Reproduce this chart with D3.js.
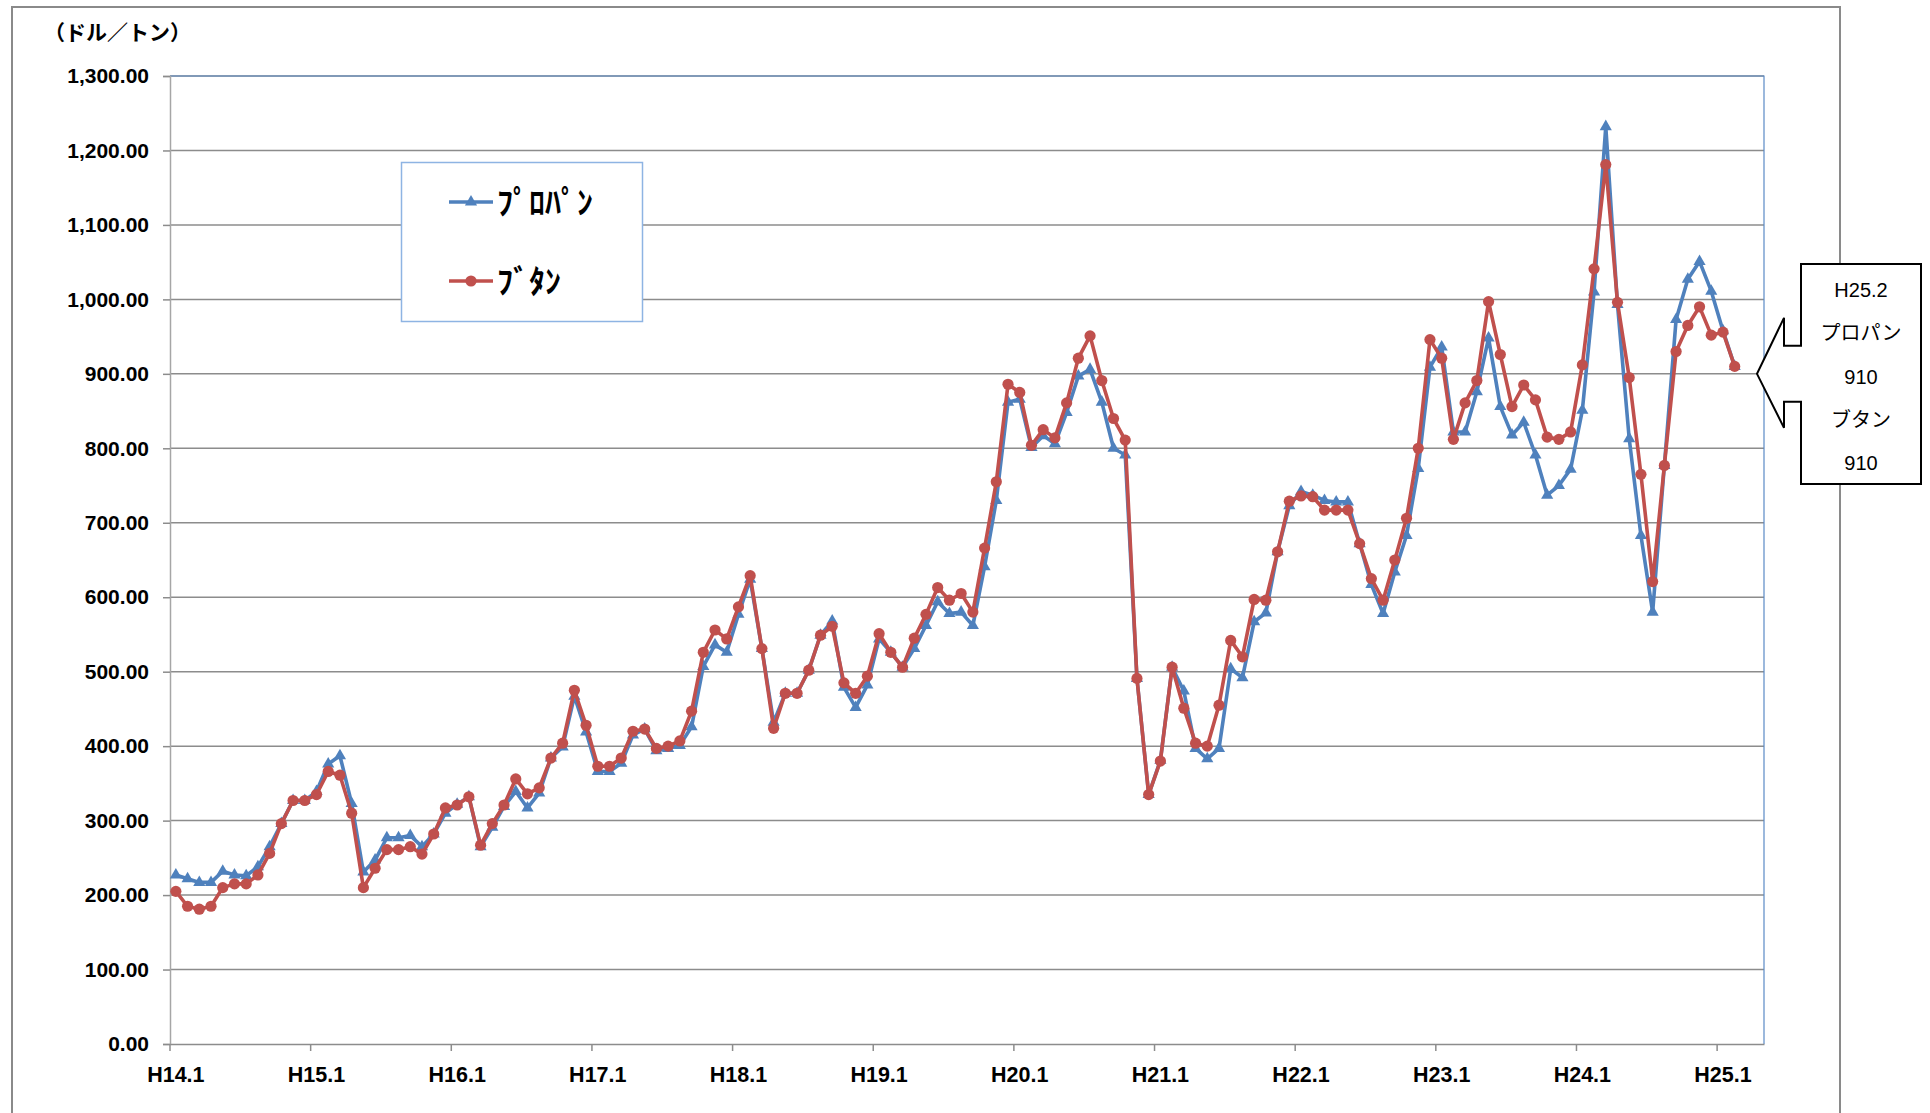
<!DOCTYPE html>
<html>
<head>
<meta charset="utf-8">
<script src="https://cdn.jsdelivr.net/npm/d3@7"></script>
<style>
  body { margin: 0; background: #fff; }
</style>
</head>
<body>
<div id="chart"></div>
<script>
// months H14.1 .. H25.4 on the category axis (data stops at H25.2)
const years = [14, 15, 16, 17, 18, 19, 20, 21, 22, 23, 24, 25];
const months = [1, 2, 3, 4, 5, 6, 7, 8, 9, 10, 11, 12];
const categories = [];
years.forEach(yr => months.forEach(m => {
    if (yr < 25 || m <= 4) categories.push(`H${yr}.${m}`);
}));

const xTickLabels = ["H14.1", "H15.1", "H16.1", "H17.1", "H18.1", "H19.1",
                     "H20.1", "H21.1", "H22.1", "H23.1", "H24.1", "H25.1"];
const yTicks = [0, 100, 200, 300, 400, 500, 600, 700, 800, 900, 1000, 1100, 1200, 1300];

// プロパン (ドル/トン)
const propane = [
    227, 222, 217, 217, 232, 227, 226, 238, 265, 296, 327, 327,
    339, 376, 387, 323, 231, 247, 277, 277, 280, 265, 282, 310,
    322, 332, 265, 291, 319, 339, 317, 337, 384, 399, 467, 419,
    366, 366, 377, 415, 423, 394, 397, 401, 426, 507, 536, 526,
    577, 624, 531, 432, 471, 471, 502, 549, 568, 479, 452, 482,
    544, 526, 506, 531, 562, 594, 578, 580, 562, 641, 730, 862,
    866, 801, 817, 806, 848, 897, 906, 862, 800, 791, 491, 335,
    381, 506, 474, 397, 383, 397, 504, 492, 567, 579, 661, 723,
    742, 737, 730, 728, 728, 672, 617, 578, 634, 683, 773, 909,
    936, 822, 822, 876, 948, 856, 818, 835, 791, 737, 750, 772,
    851, 1010, 1232, 993, 813, 683, 580, 777, 973, 1027, 1051, 1011,
    958, 910
];

// ブタン (ドル/トン)
const butane = [
    205, 185, 181, 185, 210, 215, 215, 227, 256, 296, 327, 327,
    335, 366, 361, 310, 210, 236, 261, 261, 265, 255, 282, 317,
    321, 332, 267, 296, 321, 356, 336, 344, 384, 404, 475, 428,
    373, 373, 384, 420, 423, 397, 400, 407, 447, 526, 556, 544,
    587, 629, 531, 424, 471, 471, 502, 549, 561, 485, 471, 494,
    551, 526, 506, 545, 577, 613, 596, 605, 580, 666, 755, 886,
    875, 804, 825, 814, 861, 921, 951, 891, 840, 811, 491, 335,
    380, 506, 451, 404, 400, 455, 542, 520, 597, 596, 661, 729,
    736, 735, 717, 717, 717, 672, 625, 596, 650, 706, 800, 946,
    921, 812, 861, 891, 997, 926, 856, 885, 865, 815, 812, 822,
    912, 1041, 1181, 996, 895, 765, 621, 777, 930, 965, 990, 952,
    956, 910
];

const series = [
    {name: "ﾌﾟﾛﾊﾟﾝ", values: propane, color: "#4F81BD", marker: "triangle"},
    {name: "ﾌﾞﾀﾝ", values: butane, color: "#C0504D", marker: "circle"}
];

const calloutLines = ["H25.2", "プロパン", "910", "ブタン", "910"];

const width = 1930, height = 1113;
const plot = {left: 170, right: 1764, top: 76, bottom: 1044};

const svg = d3.select("#chart")
    .append("svg")
    .attr("width", width)
    .attr("height", height)
    .style("font-family", "'Liberation Sans', Arial, sans-serif");

svg.append("rect")
    .attr("width", width).attr("height", height)
    .attr("fill", "#fff");

// outer chart frame
svg.append("rect")
    .attr("x", 12).attr("y", 7)
    .attr("width", 1828).attr("height", 1130)
    .attr("fill", "none")
    .attr("stroke", "#8a8a8a")
    .attr("stroke-width", 2);

const x = d3.scaleBand()
    .domain(categories)
    .range([plot.left, plot.right])
    .padding(0);

const y = d3.scaleLinear()
    .domain([0, 1300])
    .range([plot.bottom, plot.top]);

const cx = d => x(d) + x.bandwidth() / 2;

// gridlines
svg.append("g")
    .selectAll("line")
    .data(yTicks.filter(t => t > 0))
    .enter()
    .append("line")
    .attr("x1", plot.left)
    .attr("x2", plot.right)
    .attr("y1", d => y(d))
    .attr("y2", d => y(d))
    .attr("stroke", "#8c8c8c")
    .attr("stroke-width", 1.5);

// plot area border (top / right)
svg.append("path")
    .attr("d", `M${plot.left},${plot.top}H${plot.right}V${plot.bottom}`)
    .attr("fill", "none")
    .attr("stroke", "#5b8ac6")
    .attr("stroke-width", 1.2);

// y axis
const yAxis = svg.append("g")
    .attr("transform", `translate(${plot.left},0)`)
    .call(d3.axisLeft(y)
        .tickValues(yTicks)
        .tickSize(7)
        .tickPadding(14)
        .tickFormat(d3.format(",.2f")));
yAxis.select(".domain").attr("stroke", "#a6a6a6").attr("stroke-width", 1.5);
yAxis.selectAll(".tick line").attr("stroke", "#8c8c8c").attr("stroke-width", 1.5);
yAxis.selectAll("text")
    .attr("fill", "#000")
    .style("font-size", "21px")
    .style("font-weight", "bold")
    .style("font-family", "'Liberation Sans', Arial, sans-serif");

// x axis
const xAxis = svg.append("g")
    .attr("transform", `translate(0,${plot.bottom})`)
    .call(d3.axisBottom(x)
        .tickValues(xTickLabels)
        .tickSize(0)
        .tickSizeOuter(0)
        .tickPadding(23));
xAxis.select(".domain").attr("stroke", "#8c8c8c").attr("stroke-width", 1.5);
xAxis.selectAll("text")
    .attr("fill", "#000")
    .style("font-size", "21.5px")
    .style("font-weight", "bold")
    .style("font-family", "'Liberation Sans', Arial, sans-serif");

// tick marks sit between categories
xAxis.selectAll(".boundary")
    .data(xTickLabels)
    .enter()
    .append("line")
    .attr("x1", d => x(d))
    .attr("x2", d => x(d))
    .attr("y1", 0)
    .attr("y2", 7)
    .attr("stroke", "#8c8c8c")
    .attr("stroke-width", 1.5);

// unit label
svg.append("text")
    .attr("x", 44)
    .attr("y", 40)
    .style("font-family", "'Noto Sans CJK JP', sans-serif")
    .style("font-size", "21px")
    .style("font-weight", "bold")
    .text("（ドル／トン）");

// series lines + markers
const line = d3.line()
    .x((d, i) => cx(categories[i]))
    .y(d => y(d));

const triangle = d3.symbol().type(d3.symbolTriangle).size(64);

series.forEach(s => {
    const g = svg.append("g");
    g.append("path")
        .datum(s.values)
        .attr("d", line)
        .attr("fill", "none")
        .attr("stroke", s.color)
        .attr("stroke-width", 3.6)
        .attr("stroke-linejoin", "round");

    if (s.marker === "triangle") {
        g.selectAll("path.mark")
            .data(s.values)
            .enter()
            .append("path")
            .attr("class", "mark")
            .attr("d", triangle)
            .attr("transform", (d, i) => `translate(${cx(categories[i])},${y(d)})`)
            .attr("fill", s.color);
    } else {
        g.selectAll("circle")
            .data(s.values)
            .enter()
            .append("circle")
            .attr("cx", (d, i) => cx(categories[i]))
            .attr("cy", d => y(d))
            .attr("r", 5.6)
            .attr("fill", s.color);
    }
});

// legend
const legend = svg.append("g");
legend.append("rect")
    .attr("x", 401.5).attr("y", 162.5)
    .attr("width", 241).attr("height", 159)
    .attr("fill", "#fff")
    .attr("stroke", "#8EB4E3")
    .attr("stroke-width", 1.5);

series.forEach((s, i) => {
    const ly = 202 + i * 79;
    legend.append("line")
        .attr("x1", 449).attr("x2", 493)
        .attr("y1", ly).attr("y2", ly)
        .attr("stroke", s.color)
        .attr("stroke-width", 3.6);
    if (s.marker === "triangle") {
        legend.append("path")
            .attr("d", triangle)
            .attr("transform", `translate(471,${ly})`)
            .attr("fill", s.color);
    } else {
        legend.append("circle")
            .attr("cx", 471).attr("cy", ly).attr("r", 5.6)
            .attr("fill", s.color);
    }
    legend.append("text")
        .attr("x", 497)
        .attr("y", ly)
        .attr("dy", "0.36em")
        .style("font-family", "'Noto Sans CJK JP', sans-serif")
        .style("font-size", "32px")
        .style("font-weight", "bold")
        .text(s.name);
});

// callout pointing at the last month
const tipX = plot.right - 7;
const tipY = y(900);
const bx0 = 1801, bx1 = 1921, by0 = 264, by1 = 484;
const shaftX = 1784;
svg.append("path")
    .attr("d", [
        `M${bx0},${by0}`, `H${bx1}`, `V${by1}`, `H${bx0}`,
        `V${tipY + 28}`, `H${shaftX}`, `V${tipY + 54}`,
        `L${tipX},${tipY}`,
        `L${shaftX},${tipY - 56}`, `V${tipY - 28}`, `H${bx0}`, "Z"
    ].join(""))
    .attr("fill", "#fff")
    .attr("stroke", "#000")
    .attr("stroke-width", 2);

svg.append("g")
    .selectAll("text")
    .data(calloutLines)
    .enter()
    .append("text")
    .attr("x", (bx0 + bx1) / 2)
    .attr("y", (d, i) => 290 + i * 43.3)
    .attr("dy", "0.35em")
    .attr("text-anchor", "middle")
    .style("font-family", "'Liberation Sans', 'Noto Sans CJK JP', sans-serif")
    .style("font-size", "20px")
    .text(d => d);
</script>
</body>
</html>
